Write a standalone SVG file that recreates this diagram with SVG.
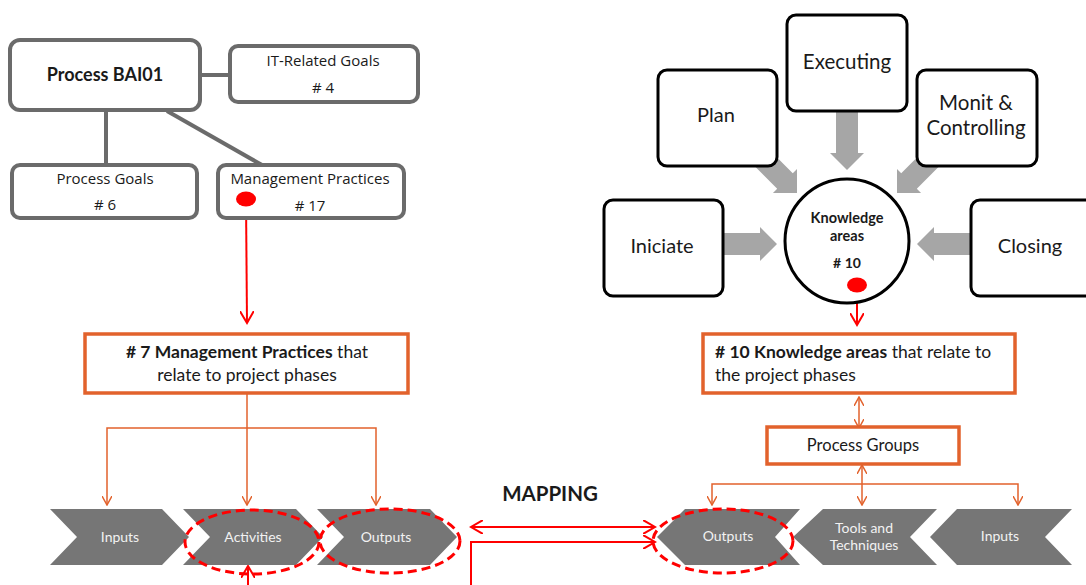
<svg xmlns="http://www.w3.org/2000/svg" width="1086" height="585" viewBox="0 0 1086 585">
  <style>
    .gbox { fill: #fff; stroke: #6b6b6b; stroke-width: 4; }
    .gline { stroke: #6b6b6b; stroke-width: 4; fill: none; }
    .kbox { fill: #fff; stroke: #000; stroke-width: 3; }
    .obox { fill: #fff; stroke: #E2622C; stroke-width: 3.5; }
    .oline { stroke: #E2622C; stroke-width: 1.5; fill: none; }
    .rline { stroke: #FF0000; stroke-width: 2; fill: none; }
    .ring { fill: none; stroke: #FF0000; stroke-width: 3; stroke-dasharray: 9 5; }
    .chev { fill: #767676; }
    .blk { fill: #A6A6A6; }
    .t { font-family: Lato, "Open Sans", "Liberation Sans", sans-serif; fill: #1a1a1a; text-anchor: middle; }
    .s { font-family: "Open Sans", Lato, "Liberation Sans", sans-serif; fill: #1a1a1a; text-anchor: middle; font-size: 15px; }
    .ct { font-family: Lato, "Open Sans", "Liberation Sans", sans-serif; fill: #f2f2f2; text-anchor: middle; font-size: 14px; }
  </style>
  <defs>
    <marker id="oArrow" viewBox="0 0 10 10" refX="9" refY="5" markerWidth="10" markerHeight="10" markerUnits="userSpaceOnUse" orient="auto-start-reverse">
      <path d="M0,0 L9,5 L0,10" fill="none" stroke="#E2622C" stroke-width="1.5"/>
    </marker>
    <marker id="rArrow" viewBox="0 0 14 14" refX="12" refY="7" markerWidth="14" markerHeight="14" markerUnits="userSpaceOnUse" orient="auto-start-reverse">
      <path d="M0,0 L12,7 L0,14" fill="none" stroke="#FF0000" stroke-width="2"/>
    </marker>
    <!-- block arrow pointing right, tip at the origin -->
    <path id="blockArrow" d="M-60,-11 L-17,-11 L-17,-17 L0,0 L-17,17 L-17,11 L-60,11 Z"/>
  </defs>

  <!-- connectors -->
  <g id="connectors">
    <!-- COBIT tree links -->
    <line class="gline" x1="200" y1="75" x2="230" y2="75"/>
    <line class="gline" x1="106" y1="110" x2="106" y2="165"/>
    <line class="gline" x1="167" y1="111" x2="262" y2="165"/>

    <!-- phase arrows into the knowledge-area circle -->
    <use href="#blockArrow" class="blk" transform="translate(777,244)"/>
    <use href="#blockArrow" class="blk" transform="translate(917,244) rotate(180)"/>
    <use href="#blockArrow" class="blk" transform="translate(847,170) rotate(90)"/>
    <use href="#blockArrow" class="blk" transform="translate(797,193) rotate(45)"/>
    <use href="#blockArrow" class="blk" transform="translate(897,193) rotate(135)"/>

    <!-- red pointers -->
    <line class="rline" x1="246" y1="200" x2="247" y2="323" marker-end="url(#rArrow)"/>
    <line class="rline" x1="857" y1="285" x2="857" y2="325" marker-end="url(#rArrow)"/>

    <!-- management practices fan-out -->
    <line class="oline" x1="247" y1="393" x2="247" y2="505" marker-end="url(#oArrow)"/>
    <polyline class="oline" points="107,505 107,428 376,428 376,505" marker-start="url(#oArrow)" marker-end="url(#oArrow)"/>

    <!-- knowledge areas / process groups -->
    <line class="oline" x1="859" y1="397" x2="859" y2="428" marker-start="url(#oArrow)" marker-end="url(#oArrow)"/>
    <line class="oline" x1="862" y1="465" x2="862" y2="505" marker-start="url(#oArrow)" marker-end="url(#oArrow)"/>
    <polyline class="oline" points="712,505 712,484 1018,484 1018,505" marker-start="url(#oArrow)" marker-end="url(#oArrow)"/>

    <!-- mapping links -->
    <line class="rline" x1="471" y1="527" x2="655" y2="527" marker-start="url(#rArrow)" marker-end="url(#rArrow)"/>
    <polyline class="rline" points="471,585 471,542 655,542" marker-end="url(#rArrow)"/>
    <line class="rline" x1="248" y1="585" x2="248" y2="566" marker-end="url(#rArrow)"/>
  </g>

  <!-- COBIT side -->
  <g id="process-bai01">
    <rect class="gbox" x="10" y="40" width="190" height="70" rx="10"/>
    <text class="t" x="105" y="81" font-size="18" font-weight="bold">Process BAI01</text>
  </g>
  <g id="it-related-goals">
    <rect class="gbox" x="230" y="46" width="188" height="56" rx="8"/>
    <text class="s" x="323" y="66">IT-Related Goals</text>
    <text class="s" x="323" y="93"># 4</text>
  </g>
  <g id="process-goals">
    <rect class="gbox" x="12" y="165" width="185" height="53" rx="8"/>
    <text class="s" x="105" y="184">Process Goals</text>
    <text class="s" x="105" y="210"># 6</text>
  </g>
  <g id="management-practices">
    <rect class="gbox" x="218" y="165" width="186" height="53" rx="8"/>
    <text class="s" x="310" y="184">Management Practices</text>
    <text class="s" x="310" y="211"># 17</text>
    <ellipse cx="246" cy="199" rx="10" ry="7.5" fill="#FF0000"/>
  </g>
  <g id="mp-phases">
    <rect class="obox" x="85" y="334" width="323" height="59"/>
    <text class="t" x="247" y="358" font-size="17.5"><tspan font-weight="bold"># 7 Management Practices</tspan> that</text>
    <text class="t" x="247" y="381" font-size="17.5">relate to project phases</text>
  </g>

  <!-- PMBOK side -->
  <g id="plan">
    <rect class="kbox" x="658" y="70" width="119" height="96" rx="9"/>
    <text class="t" x="716" y="122" font-size="20">Plan</text>
  </g>
  <g id="executing">
    <rect class="kbox" x="787" y="15" width="120" height="96" rx="9"/>
    <text class="t" x="847" y="69" font-size="20.5">Executing</text>
  </g>
  <g id="monit-controlling">
    <rect class="kbox" x="917" y="70" width="120" height="96" rx="9"/>
    <text class="t" x="976" y="110" font-size="20.5">Monit &amp;</text>
    <text class="t" x="976" y="135" font-size="20.5">Controlling</text>
  </g>
  <g id="iniciate">
    <rect class="kbox" x="604" y="200" width="119" height="96" rx="9"/>
    <text class="t" x="662" y="253" font-size="20">Iniciate</text>
  </g>
  <g id="closing">
    <rect class="kbox" x="971" y="200" width="125" height="96" rx="9"/>
    <text class="t" x="1030" y="253" font-size="20">Closing</text>
  </g>
  <g id="knowledge-areas">
    <circle cx="847" cy="241" r="62" fill="#fff" stroke="#000" stroke-width="3"/>
    <text class="t" x="847" y="223" font-size="14.5" font-weight="bold">Knowledge</text>
    <text class="t" x="847" y="241" font-size="14.5" font-weight="bold">areas</text>
    <text class="t" x="847" y="268" font-size="14" font-weight="bold"># 10</text>
    <ellipse cx="857" cy="285" rx="10" ry="7.5" fill="#FF0000"/>
  </g>
  <g id="ka-phases">
    <rect class="obox" x="703" y="334" width="312" height="59"/>
    <text class="t" x="715" y="358" font-size="17.5" style="text-anchor:start"><tspan font-weight="bold"># 10 Knowledge areas</tspan> that relate to</text>
    <text class="t" x="715" y="381" font-size="17.5" style="text-anchor:start">the project phases</text>
  </g>
  <g id="process-groups">
    <rect class="obox" x="767" y="427" width="192" height="37" stroke-width="3"/>
    <text class="t" x="863" y="451" font-size="16.5">Process Groups</text>
  </g>

  <!-- COBIT process chevrons -->
  <g id="cobit-inputs">
    <polygon class="chev" points="50,509 162,509 189,537 162,565 50,565 77,537"/>
    <text class="ct" x="120" y="542">Inputs</text>
  </g>
  <g id="cobit-activities">
    <polygon class="chev" points="183,509 296,509 323,537 296,565 183,565 210,537"/>
    <text class="ct" x="253" y="542">Activities</text>
  </g>
  <g id="cobit-outputs">
    <polygon class="chev" points="317,509 430,509 457,537 430,565 317,565 344,537"/>
    <text class="ct" x="386" y="542">Outputs</text>
  </g>

  <!-- PMBOK process chevrons -->
  <g id="pm-outputs">
    <polygon class="chev" points="657,537 685,509 800,509 775,537 800,565 685,565"/>
    <text class="ct" x="728" y="541">Outputs</text>
  </g>
  <g id="pm-tools">
    <polygon class="chev" points="793,537 823,509 937,509 910,537 937,565 823,565"/>
    <text class="ct" x="864" y="533">Tools and</text>
    <text class="ct" x="864" y="550">Techniques</text>
  </g>
  <g id="pm-inputs">
    <polygon class="chev" points="930,537 957,509 1072,509 1045,537 1072,565 957,565"/>
    <text class="ct" x="1000" y="541">Inputs</text>
  </g>

  <!-- highlighted mapping rings -->
  <g id="highlights">
    <ellipse class="ring" cx="252" cy="542" rx="67" ry="32"/>
    <ellipse class="ring" cx="390" cy="541" rx="70" ry="32"/>
    <ellipse class="ring" cx="723" cy="541" rx="70" ry="32"/>
  </g>

  <g id="mapping-label">
    <text class="t" x="550" y="501" font-size="20.5" font-weight="bold" fill="#000">MAPPING</text>
  </g>
</svg>
